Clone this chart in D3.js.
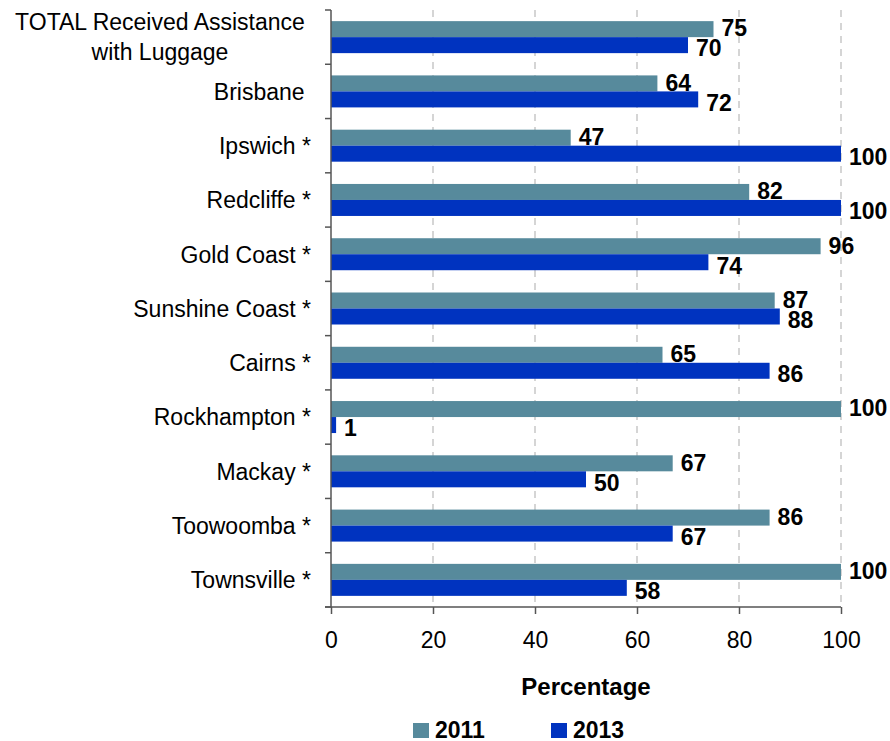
<!DOCTYPE html>
<html>
<head>
<meta charset="utf-8">
<script src="https://cdn.jsdelivr.net/npm/d3@7"></script>
<style>
  html, body { margin: 0; padding: 0; background: #fff; }
  svg { display: block; font-family: "Liberation Sans", Arial, Helvetica, sans-serif; }
</style>
</head>
<body>
<svg id="chart" width="890" height="741"></svg>
<script>
// Categories (top to bottom) and series values, in percent
const categories = [
  "TOTAL Received Assistance with Luggage",
  "Brisbane\u00a0",
  "Ipswich *",
  "Redcliffe *",
  "Gold Coast *",
  "Sunshine Coast *",
  "Cairns *",
  "Rockhampton *",
  "Mackay *",
  "Toowoomba *",
  "Townsville *"
];
const values2011 = [75, 64, 47, 82, 96, 87, 65, 100, 67, 86, 100];
const values2013 = [70, 72, 100, 100, 74, 88, 86, 1, 50, 67, 58];
const seriesNames = ["2011", "2013"];
const xTicks = [0, 20, 40, 60, 80, 100];

const colors = { "2011": "#578a9c", "2013": "#0033bf" };

const svg = d3.select("#chart");
const plotLeft = 331, plotRight = 841, plotTop = 10, plotBottom = 607;

const x = d3.scaleLinear().domain([0, 100]).range([plotLeft, plotRight]);
const y = d3.scaleBand().domain(categories).range([plotTop, plotBottom]).padding(0);
const barH = 16;

// Dashed vertical gridlines
svg.append("g")
  .selectAll("line")
  .data(xTicks.filter(d => d > 0))
  .join("line")
  .attr("x1", d => x(d)).attr("x2", d => x(d))
  .attr("y1", plotTop).attr("y2", plotBottom)
  .attr("stroke", "#c8c8c8")
  .attr("stroke-width", 1.5)
  .attr("stroke-dasharray", "7,6");

// Bars
const series = [
  { name: "2011", values: values2011, offset: -barH },
  { name: "2013", values: values2013, offset: 0 }
];
series.forEach(s => {
  const g = svg.append("g");
  g.selectAll("rect")
    .data(categories.map((c, i) => ({ c, v: s.values[i] })))
    .join("rect")
    .attr("x", x(0))
    .attr("y", d => y(d.c) + y.bandwidth() / 2 + s.offset)
    .attr("width", d => x(d.v) - x(0))
    .attr("height", barH)
    .attr("fill", colors[s.name]);
});

// Value labels
series.forEach(s => {
  svg.append("g")
    .selectAll("text")
    .data(categories.map((c, i) => ({ c, v: s.values[i] })))
    .join("text")
    .attr("x", d => x(d.v) + 8)
    .attr("y", d => y(d.c) + y.bandwidth() / 2 + s.offset + barH / 2 + (s.name === "2011" ? -1 : 3))
    .attr("dy", "0.36em")
    .attr("font-size", 23)
    .attr("font-weight", "bold")
    .attr("fill", "#000")
    .text(d => d.v);
});

// Y axis: line with ticks at the band boundaries
const yAxis = svg.append("g");
yAxis.append("line")
  .attr("x1", plotLeft).attr("x2", plotLeft)
  .attr("y1", plotTop).attr("y2", plotBottom)
  .attr("stroke", "#555").attr("stroke-width", 1.5);
yAxis.selectAll("line.tick")
  .data(d3.range(categories.length + 1))
  .join("line")
  .attr("class", "tick")
  .attr("x1", plotLeft - 6).attr("x2", plotLeft)
  .attr("y1", i => plotTop + i * y.step()).attr("y2", i => plotTop + i * y.step())
  .attr("stroke", "#555").attr("stroke-width", 1.5);

// Category labels
categories.forEach((c, i) => {
  const cy = y(c) + y.bandwidth() / 2;
  if (i === 0) {
    const t = svg.append("text")
      .attr("text-anchor", "middle")
      .attr("font-size", 23)
      .attr("fill", "#000");
    t.append("tspan").attr("x", 160).attr("y", cy - 15).attr("dy", "0.36em").text("TOTAL Received Assistance");
    t.append("tspan").attr("x", 160).attr("y", cy + 15).attr("dy", "0.36em").text("with Luggage");
  } else {
    svg.append("text")
      .attr("x", 311).attr("y", cy).attr("dy", "0.36em")
      .attr("text-anchor", "end")
      .attr("font-size", 23)
      .attr("fill", "#000")
      .text(c);
  }
});

// X axis
const xAxis = svg.append("g")
  .attr("transform", `translate(0,${plotBottom})`)
  .call(d3.axisBottom(x).tickValues(xTicks).tickSize(7).tickPadding(18).tickFormat(d3.format("d")));
xAxis.select(".domain").attr("stroke", "#555").attr("stroke-width", 1.5).attr("d", `M${plotLeft - 6},0H${plotRight}`);
xAxis.selectAll(".tick line").attr("stroke", "#555").attr("stroke-width", 1.5);
xAxis.selectAll(".tick text")
  .attr("font-size", 23)
  .attr("font-family", "Liberation Sans, Arial, sans-serif")
  .attr("fill", "#000");

// Axis title
svg.append("text")
  .attr("x", (plotLeft + plotRight) / 2).attr("y", 686).attr("dy", "0.36em")
  .attr("text-anchor", "middle")
  .attr("font-size", 24).attr("font-weight", "bold")
  .text("Percentage");

// Legend
const legendX = [413, 551];
seriesNames.forEach((name, i) => {
  svg.append("rect")
    .attr("x", legendX[i]).attr("y", 723)
    .attr("width", 16).attr("height", 15)
    .attr("fill", colors[name]);
  svg.append("text")
    .attr("x", legendX[i] + 22).attr("y", 730).attr("dy", "0.36em")
    .attr("font-size", 23).attr("font-weight", "bold")
    .text(name);
});
</script>
</body>
</html>
